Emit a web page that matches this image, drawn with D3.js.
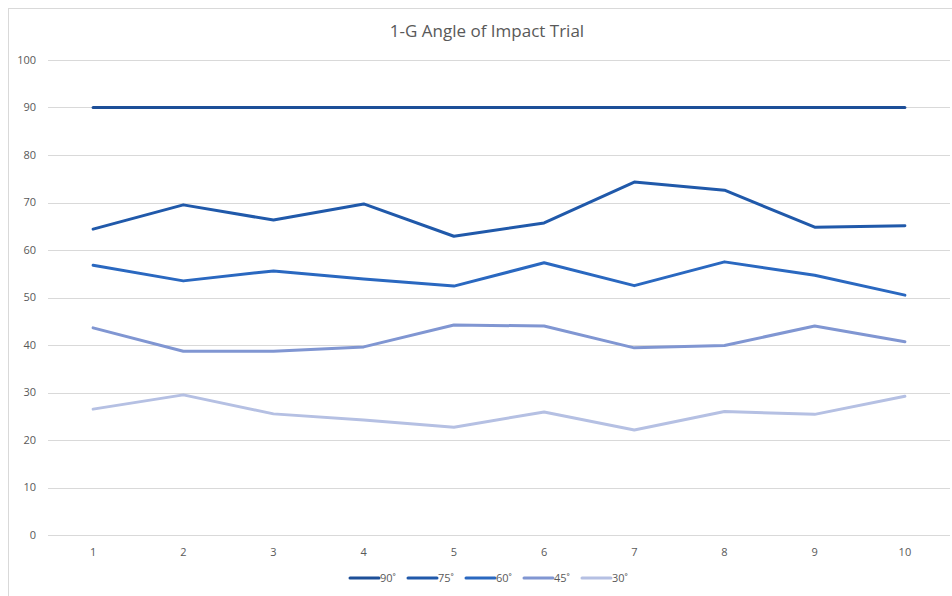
<!DOCTYPE html>
<html><head><meta charset="utf-8">
<script src="https://cdn.jsdelivr.net/npm/d3@7"></script>
<style>body{margin:0;background:#fff;} text{font-family:"Open Sans",Carlito,Calibri,sans-serif;}</style>
</head><body><svg id="c" width="952" height="596"></svg>
<script>
const trials = [1,2,3,4,5,6,7,8,9,10];
const seriesNames = ["90˚","75˚","60˚","45˚","30˚"];
const s90 = [90,90,90,90,90,90,90,90,90,90];
const s75 = [64.4,69.5,66.3,69.7,62.9,65.7,74.3,72.6,64.8,65.1];
const s60 = [56.8,53.5,55.6,53.9,52.4,57.3,52.5,57.5,54.7,50.5];
const s45 = [43.6,38.7,38.7,39.6,44.2,44.0,39.4,39.9,44.0,40.7];
const s30 = [26.5,29.5,25.5,24.2,22.7,25.9,22.1,26.0,25.4,29.2];
const yTicks = [0,10,20,30,40,50,60,70,80,90,100];
const colors = ["#1d4f98","#2059aa","#2a68c0","#8096d2","#b5c0e3"];
const allSeries = [s90,s75,s60,s45,s30];

(function(){
const svg = d3.select("#c");
svg.append("rect").attr("x",8.5).attr("y",8.5).attr("width",960).attr("height",600)
  .attr("fill","#fff").attr("stroke","#d9d9d9").attr("stroke-width",1);

const pL=48, pR=950, pT=60, pB=535;
const x = d3.scaleBand().domain(trials).range([pL,pR]);
const y = d3.scaleLinear().domain([0,100]).range([pB,pT]);

svg.append("g").selectAll("line").data(yTicks).join("line")
  .attr("x1",pL).attr("x2",pR)
  .attr("y1",d=>Math.round(y(d))+0.5).attr("y2",d=>Math.round(y(d))+0.5)
  .attr("stroke","#d9d9d9").attr("stroke-width",1);

svg.append("g").selectAll("text").data(yTicks).join("text")
  .attr("x",36).attr("y",d=>y(d)).attr("dy","0.35em").attr("text-anchor","end")
  .attr("font-size",11).attr("fill","#595959").text(d=>d);

svg.append("g").selectAll("text").data(trials).join("text")
  .attr("x",d=>x(d)+x.bandwidth()/2).attr("y",556).attr("text-anchor","middle")
  .attr("font-size",11).attr("fill","#595959").text(d=>d);

const line = d3.line().x((d,i)=>x(trials[i])+x.bandwidth()/2).y(d=>y(d));
for (let i = allSeries.length-1; i >= 0; i--) {
  svg.append("path").datum(allSeries[i]).attr("d",line).attr("fill","none")
    .attr("stroke",colors[i]).attr("stroke-width",3).attr("stroke-linejoin","round").attr("stroke-linecap","round");
}

svg.append("text").attr("x",487).attr("y",37).attr("text-anchor","middle")
  .attr("font-size",17).attr("fill","#595959").text("1-G Angle of Impact Trial");

const lg = svg.append("g");
seriesNames.forEach((n,i)=>{
  const lx = 350 + i*58;
  lg.append("line").attr("x1",lx).attr("x2",lx+29).attr("y1",578).attr("y2",578)
    .attr("stroke",colors[i]).attr("stroke-width",3).attr("stroke-linecap","round");
  lg.append("text").attr("x",lx+30).attr("y",578).attr("dy","0.35em")
    .attr("font-size",11).attr("fill","#595959").text(n);
});
})();
</script></body></html>
